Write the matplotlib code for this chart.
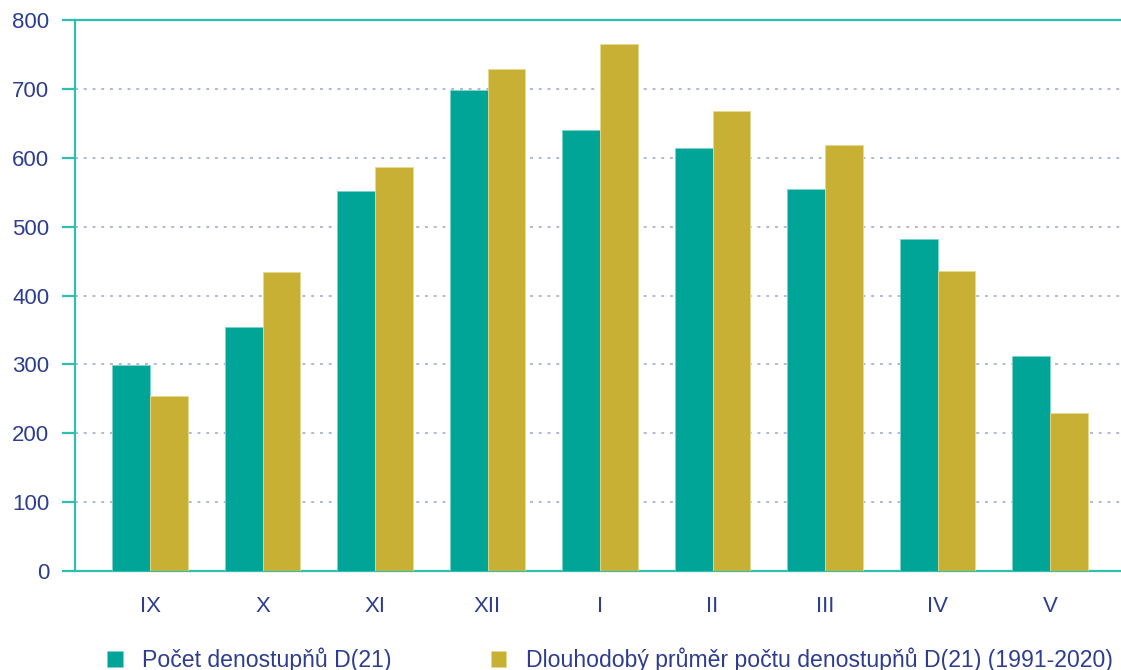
import numpy as np
import matplotlib.pyplot as plt

# data
months = ["IX", "X", "XI", "XII", "I", "II", "III", "IV", "V"]
pocet = [299, 354, 551, 698, 640, 614, 554, 482, 312]
prumer = [254, 434, 586, 729, 765, 668, 618, 435, 229]
yticks = [0, 100, 200, 300, 400, 500, 600, 700, 800]

teal = "#00A597"
gold = "#C8B034"
line_col = "#2EBFAE"
text_col = "#2E3D8F"
grid_col = "#B0B8D8"

plt.rcParams['font.family'] = ['Liberation Sans', 'DejaVu Sans']

fig = plt.figure(figsize=(11.21, 6.70), dpi=100)
ax = fig.add_axes([75 / 1121, 1 - 571 / 670, 1 - 75 / 1121, (571 - 20) / 670])

x = np.arange(len(months))
w = 0.337
ax.bar(x - w / 2, pocet, w, color=teal, edgecolor="#7FD3CB", linewidth=0.6,
       label="Počet denostupňů D(21)", zorder=3)
ax.bar(x + w / 2, prumer, w, color=gold, edgecolor="#E6D98F", linewidth=0.6,
       label="Dlouhodobý průměr počtu denostupňů D(21) (1991-2020)", zorder=3)

ax.set_xlim(-0.667, 8.631)
ax.set_ylim(0, 800)
ax.set_yticks(yticks)
ax.set_xticks(x)
ax.set_xticklabels(months)

for y in yticks[1:-1]:
    ax.axhline(y, color=grid_col, linestyle=(0, (1.5, 3)), linewidth=1.4, zorder=1)

for s in ["left", "bottom", "top"]:
    ax.spines[s].set_color(line_col)
    ax.spines[s].set_linewidth(1.6)
ax.spines["right"].set_visible(False)

ax.tick_params(axis="y", direction="out", length=9.5, width=1.6, color=line_col,
               labelcolor=text_col, labelsize=16, pad=9)
ax.tick_params(axis="x", length=0, labelcolor=text_col, labelsize=16, pad=18)

fig.legend(loc="lower left", bbox_to_anchor=(98 / 1121, -0.017), ncol=2,
           frameon=False, fontsize=16.6, labelcolor=text_col,
           handlelength=0.67, handleheight=0.67, handletextpad=0.85,
           columnspacing=4.3, borderaxespad=0)

fig.savefig("out.png", dpi=100)
